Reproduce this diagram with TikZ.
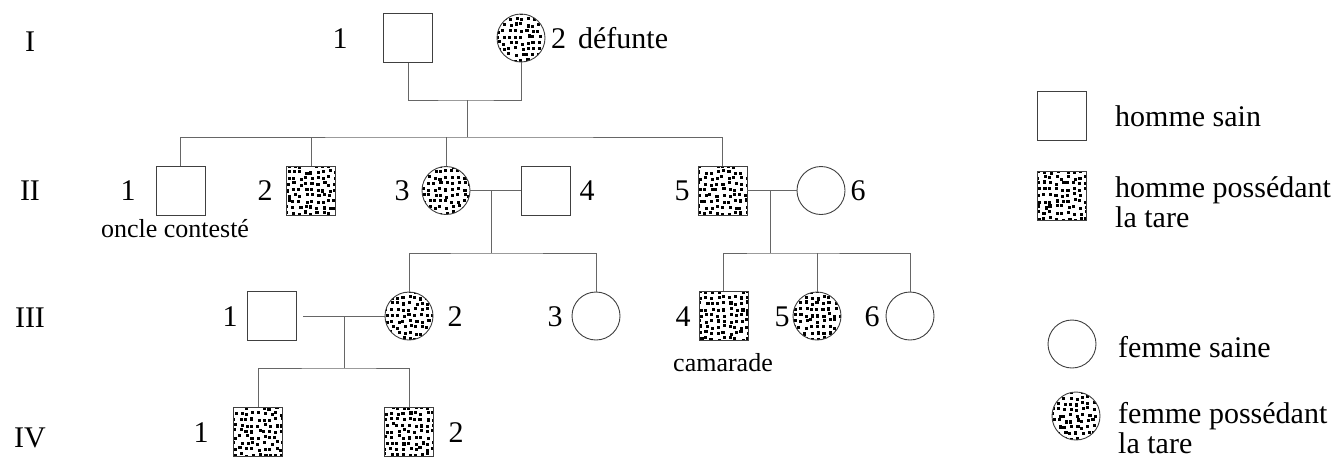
\documentclass[tikz,border=0pt]{standalone}
\usepackage{fontspec}
\setmainfont{Liberation Serif}
\begin{document}
\begin{tikzpicture}[x=1pt,y=-1pt]
\pgfmathsetseed{1234}
\tikzset{
  tare/.style={path picture={
    \foreach \ix in {0,...,8}{
      \foreach \iy in {0,...,8}{
        \pgfmathsetmacro{\px}{\ix*5.9-26+rnd*3.2}
        \pgfmathsetmacro{\py}{\iy*5.9-26+rnd*3.2}
        \pgfsetfillcolor{black}
        \pgfpathrectangle{\pgfpointadd{\pgfpointanchor{path picture bounding box}{center}}{\pgfpoint{\px pt}{\py pt}}}{\pgfpoint{3.1pt}{3.1pt}}
        \pgfusepath{fill}
      }
    }
  }},
  male/.style={draw=black!75, line width=0.9pt, rectangle, minimum width=49pt, minimum height=49pt, inner sep=0pt},
  female/.style={draw=black!75, line width=0.9pt, circle, minimum size=48pt, inner sep=0pt},
  lbl/.style={font=\fontsize{30}{33}\selectfont, inner sep=0pt},
  note/.style={font=\fontsize{26}{29}\selectfont, inner sep=0pt},
  link/.style={draw=black!60, line width=0.9pt},
}
\useasboundingbox (0,0) rectangle (1341,464);

% generation labels
\node[lbl, anchor=base] (gI) at (30,51) {I};
\node[lbl, anchor=base] (gII) at (30,200) {II};
\node[lbl, anchor=base] (gIII) at (30,327) {III};
\node[lbl, anchor=base] (gIV) at (30,447) {IV};

% generation I
\node[male] (I1) at (408,38) {};
\node[female, tare] (I2) at (521,38) {};
\node[lbl, anchor=base] (lI1) at (340,48) {1};
\node[lbl, anchor=base west] (lI2) at (551,48) {2\hspace{0.4em}défunte};

% generation II
\node[male] (II1) at (180.5,190.5) {};
\node[male, tare] (II2) at (311,190.5) {};
\node[female, tare] (II3) at (446,190.5) {};
\node[male] (II4) at (546,190.5) {};
\node[male, tare] (II5) at (722.5,190.5) {};
\node[female] (II6) at (821,190.5) {};
\node[lbl, anchor=base] (lII1) at (128,200.5) {1};
\node[lbl, anchor=base] (lII2) at (265,200.5) {2};
\node[lbl, anchor=base] (lII3) at (402,200.5) {3};
\node[lbl, anchor=base] (lII4) at (587,200.5) {4};
\node[lbl, anchor=base] (lII5) at (682,200.5) {5};
\node[lbl, anchor=base] (lII6) at (858,200.5) {6};
\node[note, anchor=base] (oncle) at (175,237) {oncle contesté};

% generation III
\node[male] (III1) at (271.5,316) {};
\node[female, tare] (III2) at (409,316) {};
\node[female] (III3) at (596,316) {};
\node[male, tare] (III4) at (723.5,316) {};
\node[female, tare] (III5) at (817,316) {};
\node[female] (III6) at (910,316) {};
\node[lbl, anchor=base] (lIII1) at (230,326) {1};
\node[lbl, anchor=base] (lIII2) at (455,326) {2};
\node[lbl, anchor=base] (lIII3) at (555,326) {3};
\node[lbl, anchor=base] (lIII4) at (683,326) {4};
\node[lbl, anchor=base] (lIII5) at (782,326) {5};
\node[lbl, anchor=base] (lIII6) at (872,326) {6};
\node[note, anchor=base] (cam) at (723,371) {camarade};

% generation IV
\node[male, tare] (IV1) at (258,432) {};
\node[male, tare] (IV2) at (409,432) {};
\node[lbl, anchor=base] (lIV1) at (201,442) {1};
\node[lbl, anchor=base] (lIV2) at (456,442) {2};

% connectors
\coordinate (m1) at (467,100);
\coordinate (s1) at (467,137);
\draw[link] (I1.south) |- (m1) -| (I2.south);
\draw[link] (m1) -- (s1);
\draw[link] (II1.north) |- (s1) -| (II5.north);
\draw[link] (s1 -| II2.north) -- (II2.north);
\draw[link] (s1 -| II3.north) -- (II3.north);

\coordinate (m2) at (491,190.5);
\coordinate (s2) at (491,253);
\draw[link] (II3.east) -- (II4.west);
\draw[link] (m2) -- (s2);
\draw[link] (III2.north) |- (s2) -| (III3.north);

\coordinate (m3) at (770,190.5);
\coordinate (s3) at (770,253);
\draw[link] (II5.east) -- (II6.west);
\draw[link] (m3) -- (s3);
\draw[link] (III4.north) |- (s3) -| (III6.north);
\draw[link] (s3 -| III5.north) -- (III5.north);

\coordinate (m4a) at (303,316);
\coordinate (m4) at (344,316);
\coordinate (s4) at (344,368);
\draw[link] (m4a) -- (III2.west);
\draw[link] (m4) -- (s4);
\draw[link] (IV1.north) |- (s4) -| (IV2.north);

% legend
\node[male] (L1) at (1062,116) {};
\node[male, tare] (L2) at (1062,196) {};
\node[female] (L3) at (1072,344) {};
\node[female, tare] (L4) at (1076,416) {};
\node[lbl, anchor=base west] (tL1) at (1115,126) {homme sain};
\node[lbl, anchor=base west] (tL2a) at (1115,197) {homme possédant};
\node[lbl, anchor=base west] (tL2b) at (1115,227) {la tare};
\node[lbl, anchor=base west] (tL3) at (1118,357) {femme saine};
\node[lbl, anchor=base west] (tL4a) at (1118,423) {femme possédant};
\node[lbl, anchor=base west] (tL4b) at (1118,453) {la tare};
\end{tikzpicture}
\end{document}
